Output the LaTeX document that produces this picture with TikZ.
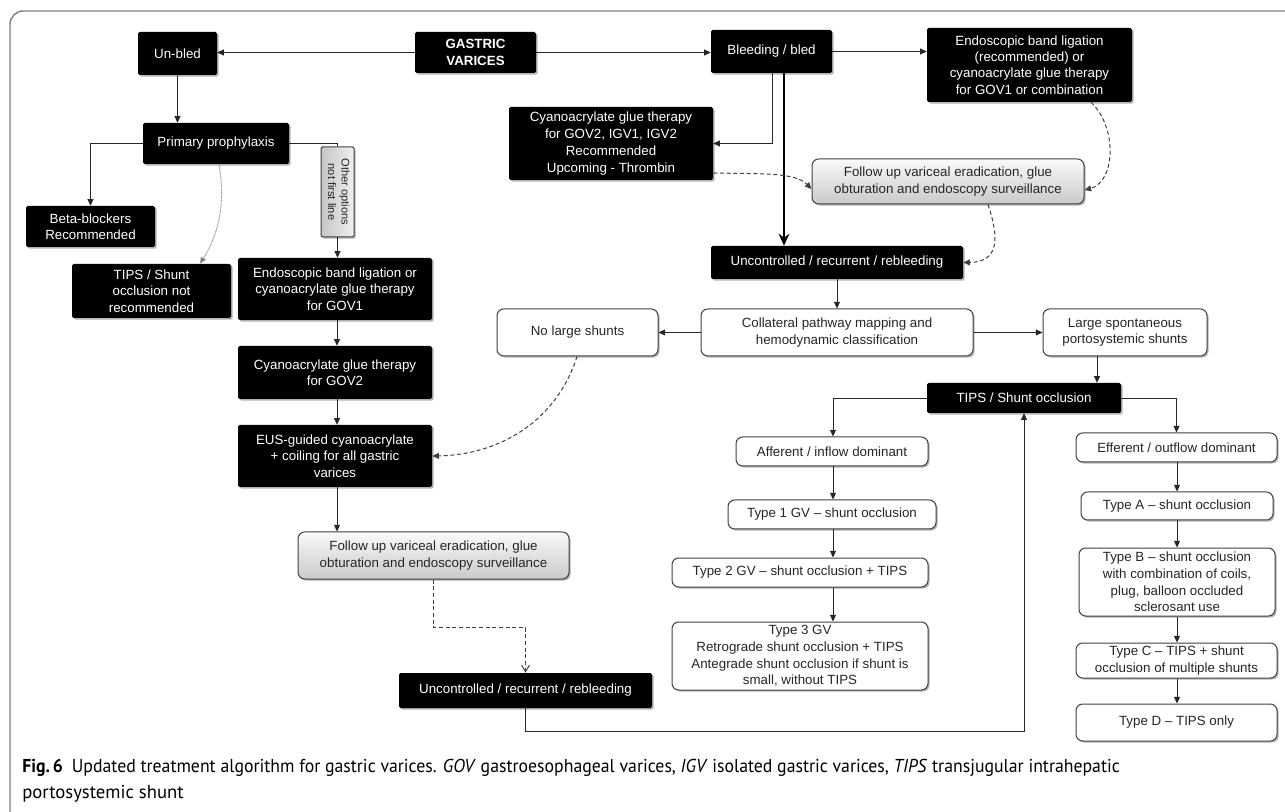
\documentclass[tikz,border=0pt]{standalone}
\usepackage{fontspec}
\setmainfont{Liberation Sans}
\newfontfamily\capfont{PT Sans}
\usetikzlibrary{arrows.meta,shadows,calc}
\newcommand\bx[7]{\node[#1, minimum width={(#5-#3)*0.75pt}, minimum height={(#6-#4)*0.75pt}] (#2) at ({(#3+#5)/2},{(#4+#6)/2}) {#7};}
\tikzset{
  base/.style={font=\fontsize{10}{12.3}\selectfont, align=center, inner sep=1pt},
  shad/.style={drop shadow={shadow xshift=1.2pt,shadow yshift=-1.2pt,fill=black,opacity=0.3}},
  blk/.style={base, shad, fill=black, text=white, rounded corners=1.2pt},
  wht/.style={base, shad, draw=black!75, line width=0.75pt, fill=white, text=black!85, rounded corners=5pt},
  gry/.style={wht, top color=gray!4, bottom color=gray!42},
  gryv/.style={base, shad, draw=black!75, line width=0.75pt, left color=gray!45, right color=gray!12, text=black!85, rounded corners=1pt, font=\fontsize{8.3}{10}\selectfont},
  arr/.style={draw=black!85, line width=0.7pt, -{Triangle[length=5pt,width=4.5pt]}},
  plain/.style={draw=black!85, line width=0.7pt},
  thickarr/.style={draw=black, line width=2.2pt, -{Stealth[length=9pt,width=8pt,inset=3pt]}},
  dasharr/.style={draw=black!75, line width=0.75pt, dash pattern=on 3pt off 2pt, -{Triangle[length=5pt,width=4.5pt]}},
  dashopen/.style={draw=black!75, line width=0.75pt, dash pattern=on 3pt off 2pt, -{Straight Barb[length=5pt,width=6pt]}},
  dotarr/.style={draw=black!40, line width=0.7pt, dash pattern=on 0.9pt off 0.5pt, -{Triangle[length=5pt,width=4.5pt,fill=black!55]}},
  frame/.style={draw=black!50, line width=1.1pt, rounded corners=10pt},
  captext/.style={anchor=base west, inner sep=0, font=\capfont\fontsize{14}{16}\selectfont},
}
\begin{document}
\begin{tikzpicture}[x=0.75pt,y=-0.75pt]
\useasboundingbox (0,0) rectangle (1285,812);
\draw[frame] (1285,11) -| (10,812);

\bx{blk}{unbled}{138}{32}{217}{75}{Un-bled}
\bx{blk, font=\fontsize{10}{12.3}\selectfont\bfseries}{gv}{415}{32}{536}{73}{GASTRIC\\VARICES}
\bx{blk}{bled}{711}{30}{832}{73}{Bleeding / bled}
\bx{blk}{endo1}{927}{28}{1132}{102}{Endoscopic band ligation\\(recommended) or\\cyanoacrylate glue therapy\\for GOV1 or combination}
\bx{blk}{prim}{143}{123}{289}{164}{Primary prophylaxis}
\bx{gryv}{other}{321}{147}{354}{237}{\rotatebox{-90}{\begin{tabular}{@{}c@{}}Other options\\not first line\end{tabular}}}
\bx{blk}{beta}{26}{206}{155}{247}{Beta-blockers\\Recommended}
\bx{blk}{tipsno}{72}{264}{231}{318}{TIPS / Shunt\\occlusion not\\recommended}
\bx{blk}{endo2}{238}{258}{432}{320}{Endoscopic band ligation or\\cyanoacrylate glue therapy\\for GOV1}
\bx{blk}{cy2}{238}{346}{432}{399}{Cyanoacrylate glue therapy\\for GOV2}
\bx{blk}{eus}{238}{425}{432}{487}{EUS-guided cyanoacrylate\\+ coiling for all gastric\\varices}
\bx{gry}{fu2}{298}{532}{569}{579}{Follow up variceal eradication, glue\\obturation and endoscopy surveillance}
\bx{blk}{unc2}{399}{673}{652}{708}{Uncontrolled / recurrent / rebleeding}
\bx{blk, font=\fontsize{10}{12.6}\selectfont}{cy1}{509}{107}{713}{180}{Cyanoacrylate glue therapy\\for GOV2, IGV1, IGV2\\Recommended\\Upcoming - Thrombin}
\bx{gry}{fu1}{812}{159}{1084}{204}{Follow up variceal eradication, glue\\obturation and endoscopy surveillance}
\bx{blk}{unc1}{711}{246}{963}{279}{Uncontrolled / recurrent / rebleeding}
\bx{wht}{coll}{701}{309}{973}{356}{Collateral pathway mapping and\\hemodynamic classification}
\bx{wht}{nols}{497}{309}{658}{356}{No large shunts}
\bx{wht}{large}{1043}{309}{1207}{356}{Large spontaneous\\portosystemic shunts}
\bx{blk}{tips}{927}{383}{1121}{413}{TIPS / Shunt occlusion}
\bx{wht}{aff}{736}{437}{928}{466}{Afferent / inflow dominant}
\bx{wht}{t1}{728}{500}{936}{529}{Type 1 GV -- shunt occlusion}
\bx{wht}{t2}{672}{558}{928}{587}{Type 2 GV -- shunt occlusion + TIPS}
\bx{wht, font=\fontsize{10}{12.5}\selectfont}{t3}{672}{622}{928}{690}{Type 3 GV\\Retrograde shunt occlusion + TIPS\\Antegrade shunt occlusion if shunt is\\small, without TIPS}
\bx{wht}{eff}{1076}{433}{1277}{462}{Efferent / outflow dominant}
\bx{wht}{ta}{1081}{492}{1273}{520}{Type A -- shunt occlusion}
\bx{wht, font=\fontsize{10}{12.5}\selectfont}{tb}{1079}{548}{1275}{616}{Type B -- shunt occlusion\\with combination of coils,\\plug, balloon occluded\\sclerosant use}
\bx{wht}{tc}{1076}{643}{1277}{678}{Type C -- TIPS + shunt\\occlusion of multiple shunts}
\bx{wht}{td}{1076}{704}{1277}{741}{Type D -- TIPS only}

% top row
\draw[arr] (gv.west) -- (gv.west -| unbled.east);
\draw[arr] (gv.east) -- (gv.east -| bled.west);
\draw[arr] (bled.east) -- (bled.east -| endo1.west);
% left branch
\draw[arr] (unbled.south) -- (unbled.south |- prim.north);
\draw[arr] (prim.west) -| (beta.north);
\draw[plain] (prim.east) -| (other.north);
\draw[arr] (other.south) -- (other.south |- endo2.north);
\draw[dotarr] (prim.south -| 219,0) .. controls (226,205) and (218,235) .. (tipsno.north -| 200,0);
\draw[arr] (endo2.south -| 337,0) -- (cy2.north -| 337,0);
\draw[arr] (cy2.south -| 337,0) -- (eus.north -| 337,0);
\draw[arr] (eus.south -| 337,0) -- (fu2.north -| 337,0);
\draw[dashopen] (fu2.south) -- ++(0,48) -| (unc2.north);
\draw[arr] (unc2.south) -- ++(0,23) -| (tips.south);
% bleeding branch
\draw[arr] (bled.south -| 772,0) |- (cy1.east);
\draw[thickarr] (bled.south -| 784,0) -- (unc1.north -| 784,0);
\draw[dasharr] (cy1.east |- 0,173) .. controls (760,174) and (795,172) .. (fu1.west |- 0,189);
\draw[dasharr] (endo1.south -| 1091,0) .. controls (1118,128) and (1115,182) .. (fu1.east |- 0,190);
\draw[dasharr] (fu1.south -| 988,0) .. controls (1000,240) and (998,262) .. (unc1.east);
\draw[arr] (unc1.south) -- (coll.north);
\draw[arr] (coll.west) -- (nols.east);
\draw[arr] (coll.east) -- (large.west);
\draw[arr] (large.south -| 1097,0) -- (tips.north -| 1097,0);
\draw[dasharr] (nols.south -| 577,0) .. controls (555,425) and (495,455) .. (eus.east);
% TIPS branches
\draw[arr] (tips.west) -| (aff.north -| 833,0);
\draw[arr] (tips.east) -| (eff.north);
\draw[arr] (aff.south -| 833,0) -- (t1.north -| 833,0);
\draw[arr] (t1.south -| 833,0) -- (t2.north -| 833,0);
\draw[arr] (t2.south -| 833,0) -- (t3.north -| 833,0);
\draw[arr] (eff.south -| 1177,0) -- (ta.north -| 1177,0);
\draw[arr] (ta.south -| 1177,0) -- (tb.north -| 1177,0);
\draw[arr] (tb.south -| 1177,0) -- (tc.north -| 1177,0);
\draw[arr] (tc.south -| 1177,0) -- (td.north -| 1177,0);

% caption
\node[captext] (cap1) at (22,772) {\scalebox{0.952}[1]{\textbf{Fig.\,6}\enspace Updated treatment algorithm for gastric varices. \textit{GOV} gastroesophageal varices, \textit{IGV} isolated gastric varices, \textit{TIPS} transjugular intrahepatic}};
\node[captext] (cap2) at (22,798) {portosystemic shunt};
\end{tikzpicture}
\end{document}
